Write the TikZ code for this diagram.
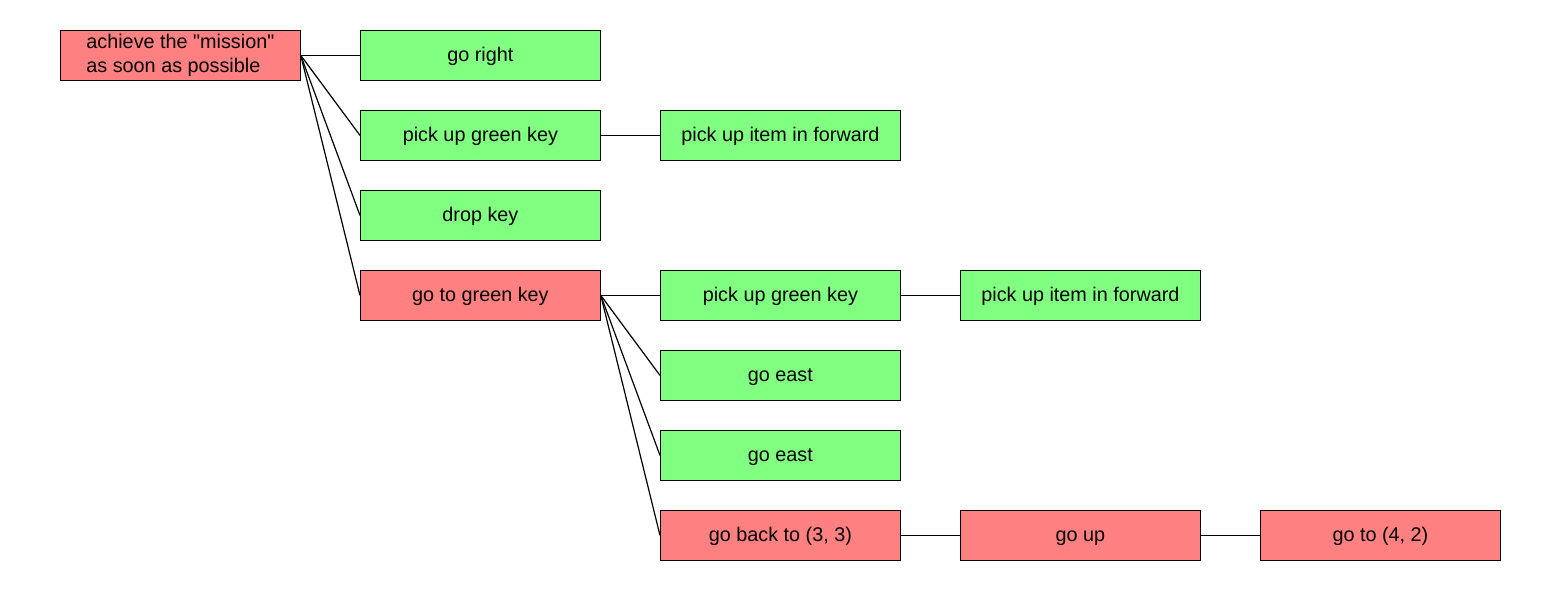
\documentclass[tikz,border=0pt]{standalone}
\usepackage{fontspec}
\setmainfont{Liberation Sans}[Ligatures=TeXOff]
\definecolor{gbox}{HTML}{80FF80}
\definecolor{rbox}{HTML}{FF8080}
\begin{document}
\begin{tikzpicture}[x=1pt,y=-1pt,
  box/.style={draw=black, line width=0.8pt, minimum width=240pt, minimum height=50pt, inner sep=0pt, anchor=north west, font=\fontsize{19.8}{24}\selectfont, text height=15pt, text depth=3pt},
  ok/.style={box, fill=gbox},
  bad/.style={box, fill=rbox},
  link/.style={draw=black, line width=1.2pt}]
\useasboundingbox (0,0) rectangle (1560,590);
\node[bad, align=left, text height=, text depth=] (root) at (60,30) {achieve the "mission"\\as soon as possible};
\node[ok] (a1) at (360,30) {go right};
\node[ok] (a2) at (360,110) {pick up green key};
\node[ok] (a3) at (360,190) {drop key};
\node[bad] (a4) at (360,270) {go to green key};
\node[ok] (b2) at (660,110) {pick up item in forward};
\node[ok] (b4) at (660,270) {pick up green key};
\node[ok] (b5) at (660,350) {go east};
\node[ok] (b6) at (660,430) {go east};
\node[bad] (b7) at (660,510) {go back to (3, 3)};
\node[ok] (c4) at (960,270) {pick up item in forward};
\node[bad] (c7) at (960,510) {go up};
\node[bad] (d7) at (1260,510) {go to (4, 2)};
\foreach \c in {a1,a2,a3,a4} \draw[link] (root.east) -- (\c.west);
\draw[link] (a2.east) -- (b2.west);
\foreach \c in {b4,b5,b6,b7} \draw[link] (a4.east) -- (\c.west);
\draw[link] (b4.east) -- (c4.west);
\draw[link] (b7.east) -- (c7.west);
\draw[link] (c7.east) -- (d7.west);
\end{tikzpicture}
\end{document}
